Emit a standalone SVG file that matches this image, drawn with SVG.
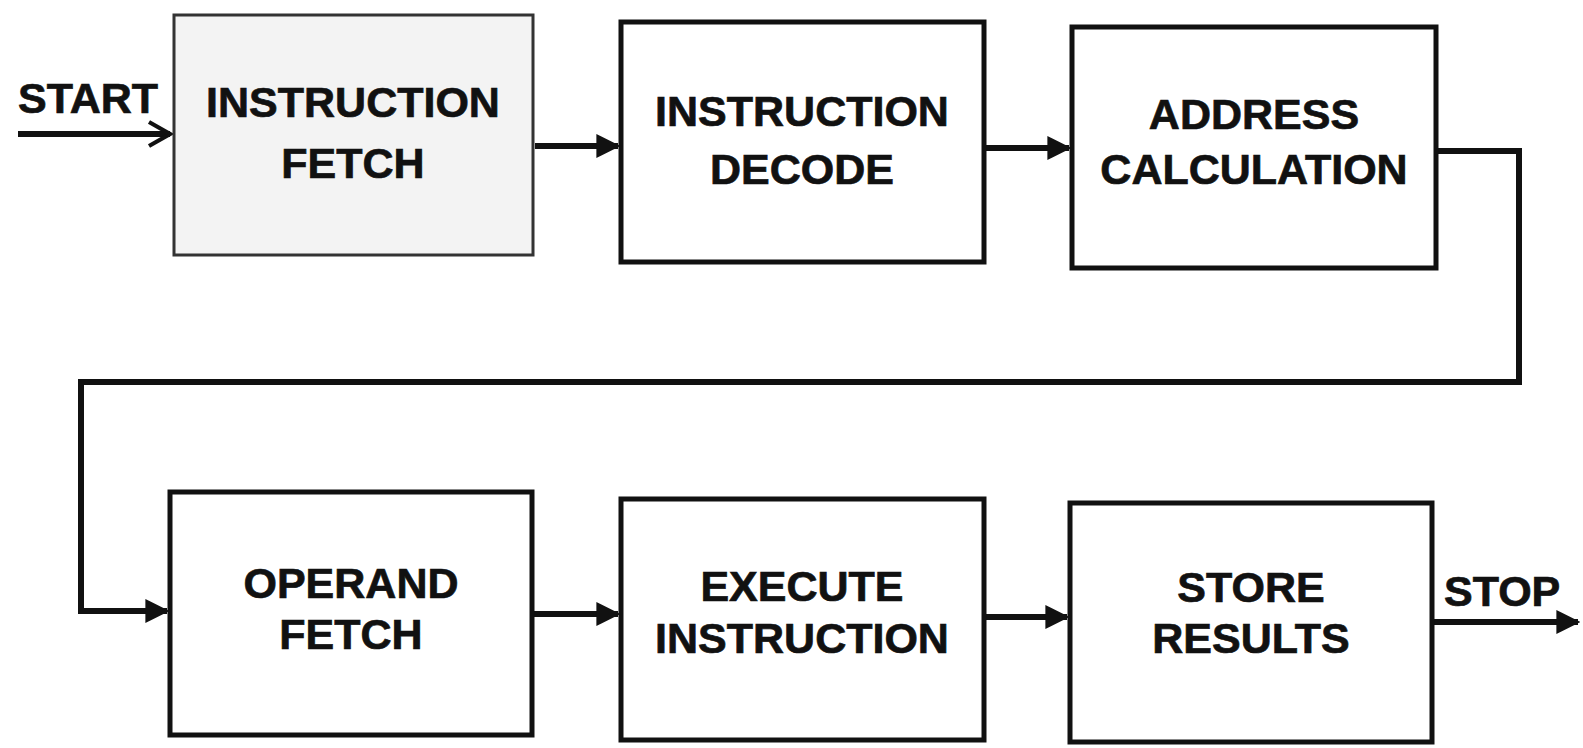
<svg xmlns="http://www.w3.org/2000/svg" width="1583" height="748" viewBox="0 0 1583 748">
  <style>
    .box { fill: #ffffff; stroke: #111111; stroke-width: 5; }
    .box.first { fill: #f3f3f3; stroke: #333333; stroke-width: 3; }
    .lbl { font-family: "Liberation Sans", Arial, sans-serif; font-weight: bold; font-size: 43px; fill: #111111; stroke: #111111; stroke-width: 0.7; text-anchor: middle; }
    .term { font-family: "Liberation Sans", Arial, sans-serif; font-weight: bold; font-size: 43px; fill: #111111; stroke: #111111; stroke-width: 0.7; }
    .wire { fill: none; stroke: #111111; stroke-width: 6; stroke-linejoin: miter; }
  </style>
  <defs>
    <marker id="head" viewBox="0 0 10 10" refX="9" refY="5" markerWidth="4" markerHeight="4" orient="auto" markerUnits="strokeWidth">
      <path d="M0,0 L10,5 L0,10 Z" fill="#111111"/>
    </marker>
    <marker id="open" viewBox="0 0 10 10" refX="9" refY="5" markerWidth="5" markerHeight="5" orient="auto" markerUnits="strokeWidth">
      <path d="M2,1 L9,5 L2,9" fill="none" stroke="#111111" stroke-width="1.4"/>
    </marker>
  </defs>

  <rect width="1583" height="748" fill="#ffffff"/>

  <!-- connectors -->
  <g id="connectors">
    <path class="wire" d="M18,134 H170" stroke-width="5" marker-end="url(#open)"/>
    <path class="wire" d="M535,146 H618" marker-end="url(#head)"/>
    <path class="wire" d="M984,148 H1069" marker-end="url(#head)"/>
    <path class="wire" d="M1436,151 H1519 V382 H81 V611 H167" marker-end="url(#head)"/>
    <path class="wire" d="M532,614 H618" marker-end="url(#head)"/>
    <path class="wire" d="M984,617 H1067" marker-end="url(#head)"/>
    <path class="wire" d="M1432,622 H1578" marker-end="url(#head)"/>
  </g>

  <!-- terminal labels -->
  <g id="start">
    <text class="term" x="18" y="113">START</text>
  </g>
  <g id="stop">
    <text class="term" x="1444" y="606">STOP</text>
  </g>

  <g id="instruction-fetch">
    <rect class="box first" x="174" y="15" width="359" height="240"/>
    <text class="lbl" x="353" y="117">INSTRUCTION</text>
    <text class="lbl" x="353" y="178">FETCH</text>
  </g>

  <g id="instruction-decode">
    <rect class="box" x="621" y="22" width="363" height="240"/>
    <text class="lbl" x="802" y="126">INSTRUCTION</text>
    <text class="lbl" x="802" y="184">DECODE</text>
  </g>

  <g id="address-calculation">
    <rect class="box" x="1072" y="27" width="364" height="241"/>
    <text class="lbl" x="1254" y="129">ADDRESS</text>
    <text class="lbl" x="1254" y="184">CALCULATION</text>
  </g>

  <g id="operand-fetch">
    <rect class="box" x="170" y="492" width="362" height="243"/>
    <text class="lbl" x="351" y="598">OPERAND</text>
    <text class="lbl" x="351" y="649">FETCH</text>
  </g>

  <g id="execute-instruction">
    <rect class="box" x="621" y="499" width="363" height="241"/>
    <text class="lbl" x="802" y="601">EXECUTE</text>
    <text class="lbl" x="802" y="653">INSTRUCTION</text>
  </g>

  <g id="store-results">
    <rect class="box" x="1070" y="503" width="362" height="239"/>
    <text class="lbl" x="1251" y="602">STORE</text>
    <text class="lbl" x="1251" y="653">RESULTS</text>
  </g>
</svg>
